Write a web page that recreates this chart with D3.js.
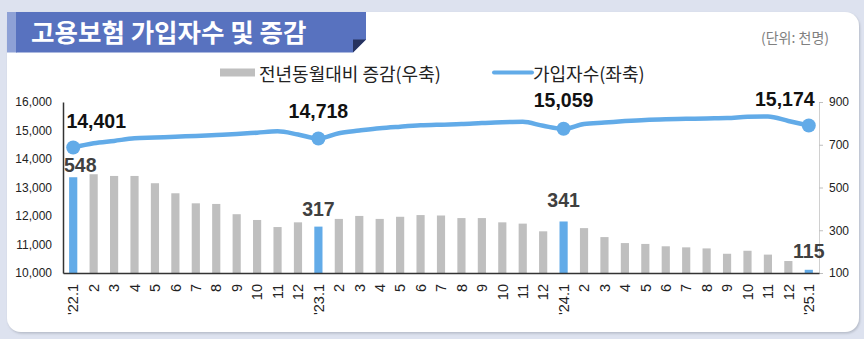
<!DOCTYPE html>
<html>
<head>
<meta charset="utf-8">
<script src="https://cdn.jsdelivr.net/npm/d3@7"></script>
<style>
  body { margin: 0; background: #dde2ef; }
  svg { display: block; }
</style>
</head>
<body>
<svg id="chart" width="864" height="339"></svg>
<script>
// months '22.1 ~ '25.1
const months = ["'22.1","2","3","4","5","6","7","8","9","10","11","12",
  "'23.1","2","3","4","5","6","7","8","9","10","11","12",
  "'24.1","2","3","4","5","6","7","8","9","10","11","12",
  "'25.1"]

// 가입자수 (천명, 좌축)
const subscribers = [14401,14550,14635,14726,14752,14785,14808,14842,14877,14924,14971,14860,
  14718,14903,14997,15082,15135,15180,15205,15225,15260,15290,15305,15165,
  15059,15230,15278,15330,15372,15396,15410,15425,15436,15480,15490,15335,
  15174]

// 전년동월대비 증감 (천명, 우축)
const yoyChange = [548,562,554,554,520,473,426,423,375,348,315,337,
  317,353,367,353,363,371,369,357,357,337,331,295,
  341,310,268,240,236,225,220,215,190,204,186,156,
  115]

const leftTicks = [10000,11000,12000,13000,14000,15000,16000]
const rightTicks = [100,300,500,700,900]

const svg = d3.select("#chart")
const blue = "#62abe8", gray = "#bfbfbf"

// card + shadow
const defs = svg.append("defs")
defs.append("filter").attr("id","sh").attr("x","-5%").attr("y","-5%").attr("width","110%").attr("height","115%")
  .append("feDropShadow").attr("dx",1).attr("dy",1.5).attr("stdDeviation",1.2).attr("flood-color","#9aa0ad").attr("flood-opacity",0.6)
svg.append("rect").attr("x",7).attr("y",12).attr("width",852).attr("height",320).attr("rx",14)
  .attr("fill","#fff").attr("filter","url(#sh)")

// title banner
svg.append("rect").attr("x",7).attr("y",12).attr("width",10).attr("height",40.5).attr("fill","#8ea1d6")
svg.append("path").attr("d","M16,12H366V39.5L353,52.5H16Z").attr("fill","#5872bf")
svg.append("path").attr("d","M353,39.5H366L353,52.5Z").attr("fill","#26325e")
svg.append("text").attr("x",31).attr("y",42).text("고용보험 가입자수 및 증감")
  .attr("fill","#fff").style("font-family","'Noto Sans CJK KR'").style("font-weight","bold").style("font-size","25.5px")
svg.append("text").attr("x",829).attr("y",43).attr("text-anchor","end").text("(단위: 천명)")
  .attr("fill","#808080").style("font-family","'Noto Sans CJK KR'").style("font-size","14px")

// legend
svg.append("rect").attr("x",220).attr("y",68.5).attr("width",35).attr("height",8).attr("fill",gray)
svg.append("text").attr("x",259).attr("y",73).attr("dominant-baseline","central").text("전년동월대비 증감(우축)")
  .attr("fill","#222").style("font-family","'Noto Sans CJK KR'").style("font-size","18px")
svg.append("line").attr("x1",494).attr("x2",532).attr("y1",72.5).attr("y2",72.5)
  .attr("stroke",blue).attr("stroke-width",4).attr("stroke-linecap","round")
svg.append("text").attr("x",533).attr("y",73).attr("dominant-baseline","central").text("가입자수(좌축)")
  .attr("fill","#222").style("font-family","'Noto Sans CJK KR'").style("font-size","18px")

// scales
const x = d3.scaleBand().domain(d3.range(months.length)).range([63, 819])
  .paddingInner(0.6).paddingOuter(0.3)
const cx = i => x(i) + x.bandwidth() / 2
const yL = d3.scaleLinear().domain([10000, 16000]).range([273, 102])
const yR = d3.scaleLinear().domain([100, 900]).range([273, 102])

// bars
svg.append("g").selectAll("rect").data(yoyChange).enter().append("rect")
  .attr("x", (d, i) => x(i))
  .attr("y", d => yR(d))
  .attr("width", x.bandwidth())
  .attr("height", d => yR(100) - yR(d))
  .attr("fill", (d, i) => i % 12 === 0 ? blue : gray)

// axes
const axisFont = "'Liberation Sans', Arial, sans-serif"
const gl = svg.append("g").attr("transform","translate(63,0)")
  .call(d3.axisLeft(yL).tickValues(leftTicks).tickFormat(d3.format(",")).tickSize(0).tickSizeOuter(0).tickPadding(11))
gl.select(".domain").attr("stroke","#333").attr("stroke-width",1.5)
gl.selectAll("text").attr("fill","#222").style("font-family",axisFont).style("font-size","12px")

const gr = svg.append("g").attr("transform","translate(819,0)")
  .call(d3.axisRight(yR).tickValues(rightTicks).tickSize(4).tickSizeOuter(0).tickPadding(6))
gr.select(".domain").attr("stroke","#d0d0d0")
gr.selectAll(".tick line").attr("stroke","#bfbfbf")
gr.selectAll("text").attr("fill","#222").style("font-family",axisFont).style("font-size","12px")

const gb = svg.append("g").attr("transform","translate(0,273)")
  .call(d3.axisBottom(x).tickFormat(i => months[i]).tickSize(0).tickSizeOuter(0))
gb.select(".domain").attr("stroke","#333").attr("stroke-width",1.5)
gb.selectAll("text")
  .attr("transform","rotate(-90)").attr("x",-11).attr("y",0).attr("dy","0.36em")
  .style("text-anchor","end").attr("fill","#222").style("font-family",axisFont).style("font-size","14.5px")

// line
const line = d3.line().x((d, i) => cx(i)).y(d => yL(d)).curve(d3.curveMonotoneX)
svg.append("path").datum(subscribers).attr("d", line)
  .attr("fill","none").attr("stroke",blue).attr("stroke-width",4.5).attr("stroke-linejoin","round")

const marked = [0, 12, 24, 36]
svg.append("g").selectAll("circle").data(marked).enter().append("circle")
  .attr("cx", i => cx(i)).attr("cy", i => yL(subscribers[i])).attr("r",7).attr("fill",blue)

// data labels
const fmt = d3.format(",")
const lineLabelShift = {0: [23, -20], 12: [0, -21], 24: [0, -22], 36: [-24, -20]}
const barLabelShift = {0: [7, -5], 12: [0, -11], 24: [0, -14], 36: [0, -12]}
const labelFont = "'Liberation Sans', Arial, sans-serif"

svg.append("g").selectAll("text").data(marked).enter().append("text")
  .attr("x", i => cx(i) + lineLabelShift[i][0])
  .attr("y", i => yL(subscribers[i]) + lineLabelShift[i][1])
  .attr("text-anchor","middle").text(i => fmt(subscribers[i]))
  .attr("fill","#111").style("font-family",labelFont).style("font-weight","bold").style("font-size","19.5px")

svg.append("g").selectAll("text").data(marked).enter().append("text")
  .attr("x", i => cx(i) + barLabelShift[i][0])
  .attr("y", i => yR(yoyChange[i]) + barLabelShift[i][1])
  .attr("text-anchor","middle").text(i => fmt(yoyChange[i]))
  .attr("fill","#404040").style("font-family",labelFont).style("font-weight","bold").style("font-size","19.5px")
</script>
</body>
</html>
